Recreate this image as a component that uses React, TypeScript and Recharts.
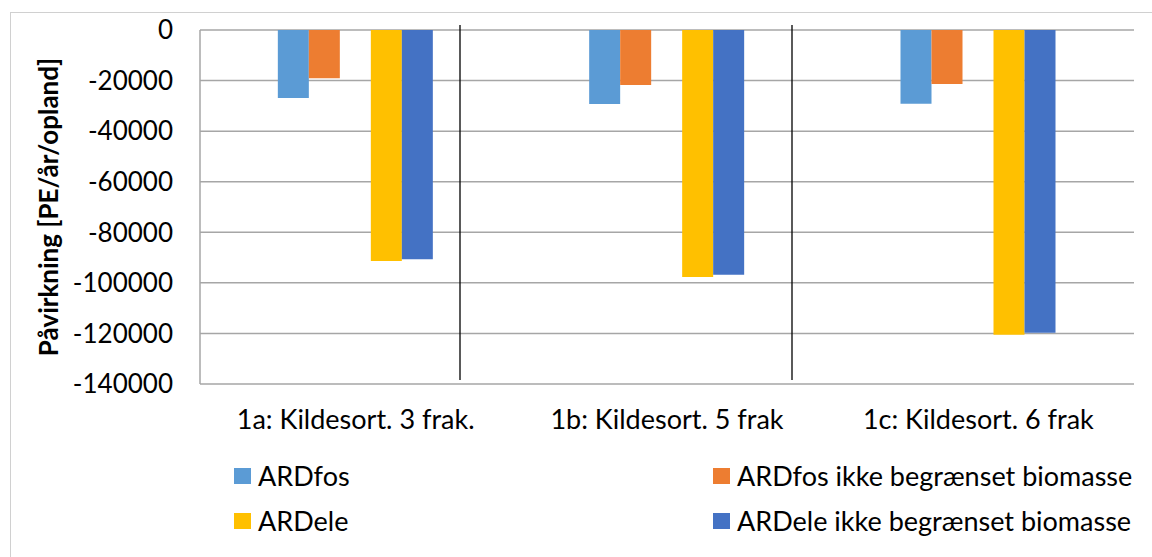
import { Bar, BarChart, CartesianGrid, XAxis, YAxis } from "recharts";

const categories = [
  "1a: Kildesort. 3 frak.",
  "1b: Kildesort. 5 frak",
  "1c: Kildesort. 6 frak",
];
const ardfos = [-26900, -29300, -29200];
const ardfosIkke = [-19100, -21800, -21400];
const ardele = [-91400, -97700, -120500];
const ardeleIkke = [-90700, -96800, -119700];
const yTicks = [0, -20000, -40000, -60000, -80000, -100000, -120000, -140000];

const seriesNames = [
  "ARDfos",
  "ARDfos ikke begrænset biomasse",
  "ARDele",
  "ARDele ikke begrænset biomasse",
];
const seriesColors = ["#5B9BD5", "#ED7D31", "#FFC000", "#4472C4"];

// free-standing divider lines drawn on top of the chart (not tied to categories)
const dividerX = [460, 792];

const data = categories.map((name, i) => ({
  name,
  ardfos: ardfos[i],
  ardfosIkke: ardfosIkke[i],
  gap: null,
  ardele: ardele[i],
  ardeleIkke: ardeleIkke[i],
}));

const font = "Lato, 'Open Sans', sans-serif";
const gridGray = "#a6a6a6";

const LegendItem = ({ color, label }: { color: string; label: string }) => (
  <div style={{ display: "flex", alignItems: "center", height: 45 }}>
    <span
      style={{
        width: 17,
        height: 16,
        background: color,
        display: "inline-block",
        marginRight: 7,
      }}
    />
    <span style={{ fontSize: 27, color: "#000" }}>{label}</span>
  </div>
);

export default function App() {
  return (
    <div
      style={{
        position: "absolute",
        left: 0,
        top: 0,
        width: 1152,
        height: 557,
        background: "#fff",
        fontFamily: font,
        overflow: "hidden",
      }}
    >
      <div
        style={{
          position: "absolute",
          left: 10,
          top: 12,
          width: 1150,
          height: 560,
          border: "1px solid #d0d0d0",
        }}
      />
      <BarChart
        width={1152}
        height={557}
        data={data}
        margin={{ top: 30, right: 18, bottom: 113, left: 0 }}
        barCategoryGap="25%"
        barGap={0}
      >
        <CartesianGrid vertical={false} stroke={gridGray} strokeWidth={1.5} />
        <XAxis
          dataKey="name"
          axisLine={false}
          tickLine={false}
          tickSize={0}
          tickMargin={26}
          height={60}
          tick={{ fill: "#000", fontSize: 27, fontFamily: font }}
          interval={0}
        />
        <YAxis
          type="number"
          domain={[-140000, 0]}
          ticks={yTicks}
          width={200}
          interval={0}
          axisLine={{ stroke: gridGray, strokeWidth: 1.5 }}
          tickLine={false}
          tickSize={0}
          tickMargin={27}
          tick={{ fill: "#000", fontSize: 26, fontFamily: font }}
        />
        <Bar dataKey="ardfos" fill={seriesColors[0]} isAnimationActive={false} />
        <Bar dataKey="ardfosIkke" fill={seriesColors[1]} isAnimationActive={false} />
        <Bar dataKey="gap" fill="transparent" legendType="none" isAnimationActive={false} />
        <Bar dataKey="ardele" fill={seriesColors[2]} isAnimationActive={false} />
        <Bar dataKey="ardeleIkke" fill={seriesColors[3]} isAnimationActive={false} />
      </BarChart>
      <svg
        width={1152}
        height={557}
        style={{ position: "absolute", left: 0, top: 0, pointerEvents: "none" }}
      >
        {dividerX.map((x) => (
          <line key={x} x1={x} x2={x} y1={25} y2={380} stroke="#000" strokeWidth={1.3} />
        ))}
      </svg>
      <div
        style={{
          position: "absolute",
          left: 48,
          top: 207,
          transform: "translate(-50%, -50%) rotate(-90deg)",
          whiteSpace: "nowrap",
          fontSize: 26,
          fontWeight: 700,
          color: "#000",
        }}
      >
        Påvirkning [PE/år/opland]
      </div>
      <div style={{ position: "absolute", left: 234, top: 453 }}>
        <LegendItem color={seriesColors[0]} label={seriesNames[0]} />
        <LegendItem color={seriesColors[2]} label={seriesNames[2]} />
      </div>
      <div style={{ position: "absolute", left: 713, top: 453 }}>
        <LegendItem color={seriesColors[1]} label={seriesNames[1]} />
        <LegendItem color={seriesColors[3]} label={seriesNames[3]} />
      </div>
    </div>
  );
}
